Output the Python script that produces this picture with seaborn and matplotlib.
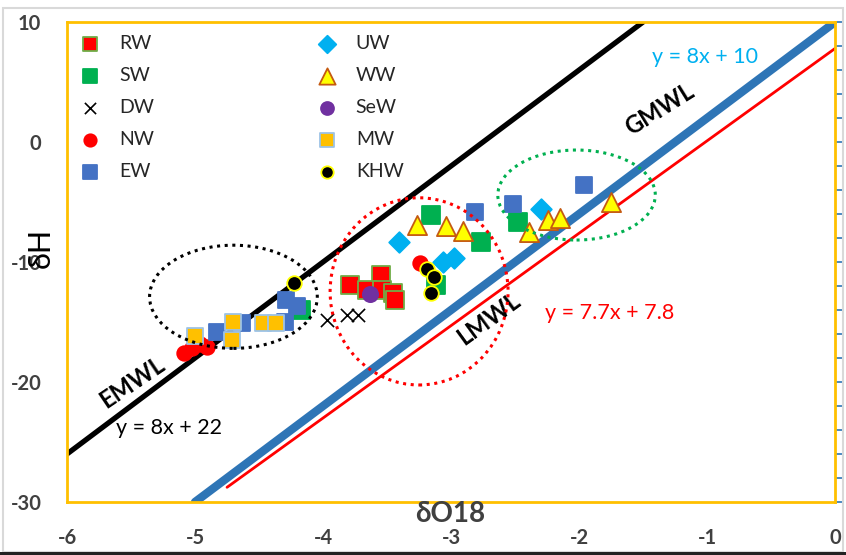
import numpy as np
import seaborn as sns
import matplotlib.pyplot as plt
from matplotlib.patches import Ellipse, Rectangle
from matplotlib.ticker import MultipleLocator

# valeurs (delta O18, delta H)
rw_x = [-3.79, -3.55, -3.66, -3.54, -3.45, -3.44]
rw_y = [-11.9, -11.1, -12.3, -12.3, -12.6, -13.2]
sw_x = [-3.16, -2.77, -2.48, -4.17, -3.12]
sw_y = [-6.1, -8.3, -6.7, -14.0, -11.9]
dw_x = [-3.97, -3.81, -3.73]
dw_y = [-14.8, -14.4, -14.4]
nw_x = [-5.09, -5.02, -4.96, -4.91, -3.24]
nw_y = [-17.6, -17.2, -16.8, -17.1, -10.1]
ew_x = [-4.83, -4.63, -4.29, -4.20, -4.30, -2.81, -2.52, -1.96]
ew_y = [-15.8, -15.1, -13.2, -13.7, -15.0, -5.8, -5.2, -3.6]
uw_x = [-3.41, -3.06, -2.98, -2.30]
uw_y = [-8.3, -10.0, -9.7, -5.6]
ww_x = [-3.27, -3.04, -2.91, -2.39, -2.24, -2.15, -1.75]
ww_y = [-6.9, -7.0, -7.4, -7.5, -6.5, -6.3, -5.0]
sew_x = [-3.63]
sew_y = [-12.7]
mw_x = [-5.00, -4.70, -4.71, -4.47, -4.37]
mw_y = [-16.2, -15.0, -16.5, -15.1, -15.1]
khw_x = [-4.23, -3.19, -3.13, -3.16]
khw_y = [-11.75, -10.6, -11.25, -12.6]

# droites (pente, ordonnee, debut, fin)
gmwl = (8, 10, -5, 0)
lmwl = (7.7, 7.8, -4.75, 0)
emwl = (8, 22, -6, -1.5)

sns.set_theme(style="white")
plt.rcParams["font.family"] = ["Lato", "DejaVu Sans"]
plt.rcParams["axes.unicode_minus"] = False

fig = plt.figure(figsize=(8.46, 5.55), dpi=100)
ax = fig.add_axes([0.0792, 0.0955, 0.908, 0.8649])

# cadre du graphique
fig.patches.append(Rectangle((0.004, 0.006), 0.992, 0.98, transform=fig.transFigure,
                             fill=False, edgecolor="#D9D9D9", linewidth=1.5))
fig.patches.append(Rectangle((0.0, 0.0), 1.0, 0.006, transform=fig.transFigure,
                             facecolor="#222222", edgecolor="none"))


def droite(params, color, lw):
    a, b, x0, x1 = params
    xs = np.array([x0, x1])
    sns.lineplot(x=xs, y=a * xs + b, color=color, linewidth=lw, ax=ax, zorder=2)


droite(gmwl, "#2E75B6", 6)
droite(lmwl, "#FF0000", 2)
droite(emwl, "black", 3.8)

series = [
    ("RW", rw_x, rw_y, "s", "#FF0000", "#70AD47", 150),
    ("SW", sw_x, sw_y, "s", "#00B050", "#00B050", 150),
    ("DW", dw_x, dw_y, "x", "black", None, 90),
    ("NW", nw_x, nw_y, "o", "#FF0000", "#FF0000", 110),
    ("EW", ew_x, ew_y, "s", "#4472C4", "#4472C4", 145),
    ("UW", uw_x, uw_y, "D", "#00B0F0", "#00B0F0", 110),
    ("WW", ww_x, ww_y, "^", "#FFFF00", "#C55A11", 190),
    ("SeW", sew_x, sew_y, "o", "#7030A0", "#7030A0", 120),
    ("MW", mw_x, mw_y, "s", "#FFC000", "#9DC3E6", 135),
    ("KHW", khw_x, khw_y, "o", "black", "#FFFF00", 110),
]

for name, xs, ys, mk, fc, ec, sz in series:
    if ec is None:
        sns.scatterplot(x=xs, y=ys, marker=mk, s=sz, color=fc, linewidth=1.2,
                        label=name, ax=ax, zorder=3)
    else:
        sns.scatterplot(x=xs, y=ys, marker=mk, s=sz, color=fc, edgecolor=ec,
                        linewidth=1.3, label=name, ax=ax, zorder=3)

# ellipses en pointilles
for (cx, cy, w, h), col in [((-4.70, -12.9, 1.31, 8.6), "black"),
                            ((-3.25, -12.45, 1.39, 15.6), "#FF0000"),
                            ((-2.02, -4.42, 1.23, 7.5), "#00B050")]:
    ax.add_patch(Ellipse((cx, cy), w, h, fill=False, edgecolor=col,
                         linestyle=(0, (1, 1.5)), linewidth=2.2, zorder=4))

# textes des droites
ax.text(-1.02, 7.1, "y = 8x + 10", color="#00B0F0", fontsize=15.5, ha="center", va="center")
ax.text(-1.37, 2.7, "GMWL", color="black", fontsize=17, fontweight="bold", rotation=32,
        ha="center", va="center")
ax.text(-1.76, -14.25, "y = 7.7x + 7.8", color="#FF0000", fontsize=15.5, ha="center", va="center")
ax.text(-2.71, -14.7, "LMWL", color="black", fontsize=17, fontweight="bold", rotation=36,
        ha="center", va="center")
ax.text(-5.49, -20.0, "EMWL", color="black", fontsize=17, fontweight="bold", rotation=34,
        ha="center", va="center")
ax.text(-5.2, -23.85, "y = 8x + 22", color="black", fontsize=15.5, ha="center", va="center")

ax.set_xlim(-6, 0)
ax.set_ylim(-30, 10)
ax.xaxis.set_major_locator(MultipleLocator(1))
ax.yaxis.set_major_locator(MultipleLocator(10))
ax.yaxis.set_minor_locator(MultipleLocator(2))
ax.tick_params(axis="x", bottom=False, pad=12.5, labelsize=14.5, labelcolor="#404040")
ax.tick_params(axis="y", which="both", left=False, right=True, labelleft=True,
               labelright=False, direction="out", color="#2E75B6", length=5, width=1.2,
               pad=13.5, labelsize=14.5, labelcolor="#404040")
for lab in ax.get_xticklabels() + ax.get_yticklabels():
    lab.set_fontweight("bold")

for sp in ax.spines.values():
    sp.set_visible(True)
    sp.set_color("#FFC000")
    sp.set_linewidth(2)

ax.set_xlabel("")
ax.set_ylabel("")
ax.text(0.499, -0.025, "δO18", transform=ax.transAxes, fontsize=20, fontweight="bold",
        color="#404040", ha="center", va="center")
fig.text(0.048, 0.553, "δH", rotation=90, fontsize=22, color="black", ha="center", va="center")

ax.legend(ncol=2, loc="upper left", frameon=False, fontsize=14, borderaxespad=0.25,
          handletextpad=0.75, columnspacing=8.1, labelspacing=0.78, handlelength=1.5,
          markerscale=0.85, bbox_to_anchor=(-0.005, 1.0))

fig.savefig("out.png", dpi=100)
